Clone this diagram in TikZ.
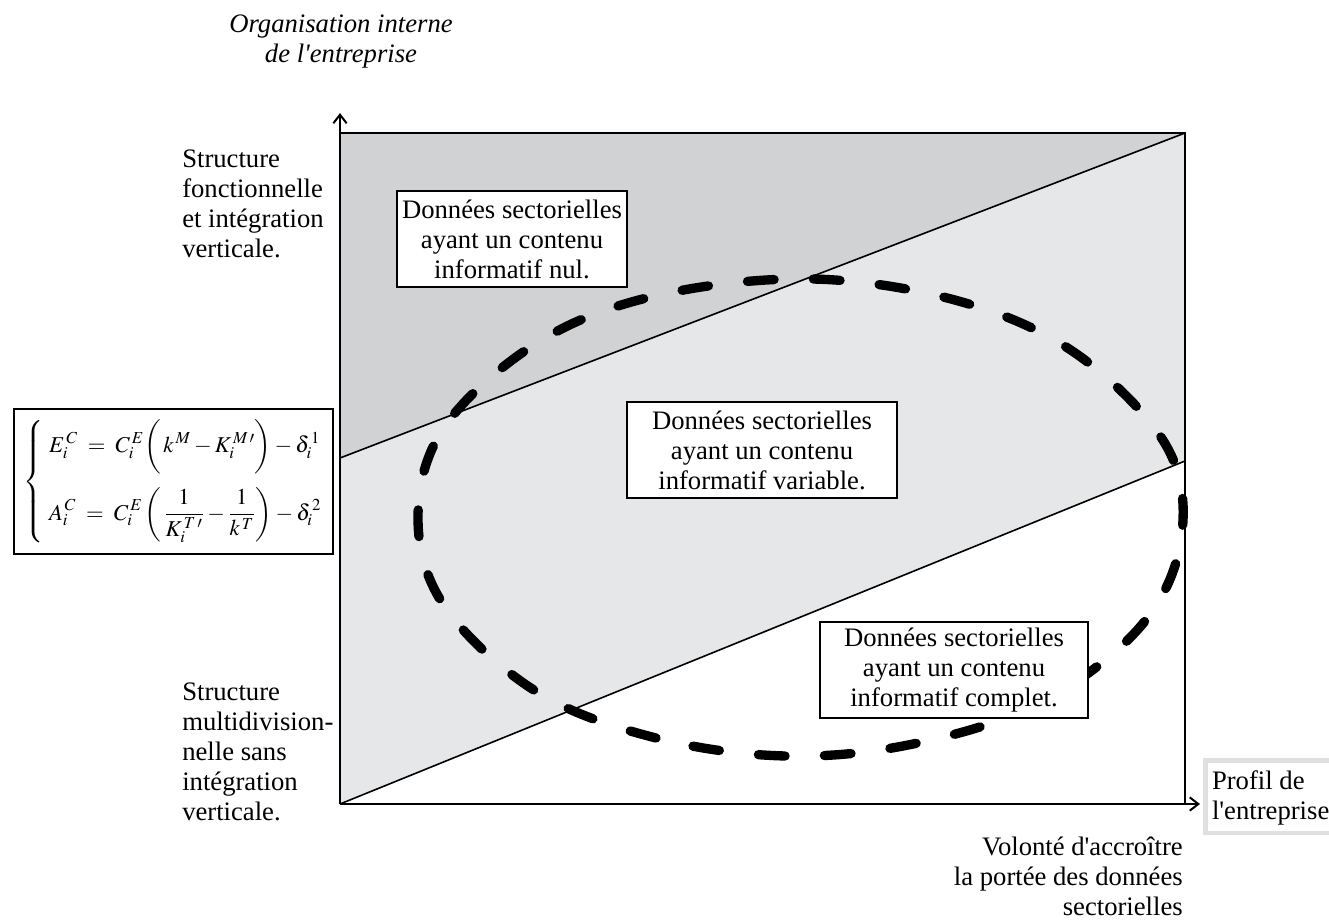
\documentclass[tikz,border=0pt]{standalone}
\usepackage{mathptmx}
\usepackage[no-math]{fontspec}
\setmainfont{Liberation Serif}
\usetikzlibrary{positioning, calc, arrows.meta}
\definecolor{darkzone}{RGB}{209,210,212}
\definecolor{lightzone}{RGB}{230,231,232}

\begin{document}
\begin{tikzpicture}
    [
        x=0.75pt, y=-0.75pt,
        txt/.style={font=\fontsize{20}{22.5}\selectfont, inner sep=0pt, align=left},
        info_box/.style={draw=black, fill=white, line width=1.5pt, font=\fontsize{20}{22.5}\selectfont, align=center, minimum height=71.5pt, inner sep=0pt},
        profil_box/.style={txt, draw=black!12, line width=3.5pt, fill=white, inner xsep=3.5pt, inner ysep=6pt, minimum width=98pt},
        eq_box/.style={draw=black, line width=1.5pt, inner xsep=3pt, inner ysep=8pt, minimum width=239pt, align=left, font=\fontsize{17}{20}\selectfont},
        zone_line/.style={line width=1.2pt},
        thick_dash/.style={line width=7pt, line cap=round, dash pattern=on 20pt off 29.5pt},
        axis_arrow/.style={line width=1.5pt, -{Straight Barb[length=6.5pt, width=10pt]}},
    ]

  \useasboundingbox (0,0) rectangle (1329,922);

  \coordinate (origin) at (340,804);
  \coordinate (top_left) at (340,133);
  \coordinate (top_right) at (1185,133);
  \coordinate (bottom_right) at (1185,804);
  \coordinate (mid_left) at (340,458);
  \coordinate (mid_right) at (1185,461);
  \coordinate (y_tip) at (340,113);
  \coordinate (x_tip) at (1200,804);

  \fill[darkzone] (top_left) -- (top_right) -- (mid_left) -- cycle;
  \fill[lightzone] (mid_left) -- (top_right) -- (mid_right) -- (origin) -- cycle;
  \draw[zone_line] (mid_left) -- (top_right);
  \draw[zone_line] (origin) -- (mid_right);
  \draw[line width=1.5pt] (top_left) -- (top_right) -- (bottom_right);

  \draw[thick_dash] plot[smooth cycle, tension=0.6] coordinates {(786,756) (656,738) (537,692) (445,607) (418,518) (445,426) (540,341) (659,295) (813,279) (962,302) (1078,355) (1167,447) (1181,540) (1140,627) (1040,703) (913,744)};

  \node[info_box, minimum width=173pt] (nul) at (512,239) {Données sectorielles\\ayant un contenu\\informatif nul.};
  \node[info_box, minimum width=202pt] (variable) at (762,450) {Données sectorielles\\ayant un contenu\\informatif variable.};
  \node[info_box, minimum width=201pt] (complet) at (954,670) {Données sectorielles\\ayant un contenu\\informatif complet.};

  \draw[axis_arrow] (origin) -- (y_tip);
  \draw[axis_arrow] (origin) -- (x_tip);

  \node[txt, align=center, anchor=north, font=\fontsize{20}{22.5}\selectfont\itshape] (organisation) at (341,11) {\strut Organisation interne\\de l\textquotesingle entreprise};
  \node[txt, anchor=north west] (fonctionnelle) at (182,146) {\strut Structure\\fonctionnelle\\et intégration\\verticale.};
  \node[txt, anchor=north west] (multidiv) at (182,679) {\strut Structure\\multidivision-\\nelle sans\\intégration\\verticale.};
  \node[txt, align=right, anchor=north east] (volonte) at (1183,834) {\strut Volonté d\textquotesingle accroître\\la portée des données\\sectorielles};
  \node[profil_box, anchor=north west] (profil) at (1203,758) {\strut Profil de\\l\textquotesingle entreprise};

  \node[eq_box, anchor=north west] (equations) at (13,408) {$\left\{\;\begin{array}{@{}l@{}}
      \displaystyle E_{i}^{\,C} \;=\; C_{i}^{\,E}\biggl(\,k^{\,M} - K_{i}^{\,M\,\prime}\biggr) - \delta_{i}^{\,1} \\[20pt]
      \displaystyle A_{i}^{\,C} \;=\; C_{i}^{\,E}\left(\,\frac{1}{K_{i}^{\,T\,\prime}} - \frac{1}{k^{\,T}}\right) - \delta_{i}^{\,2}
    \end{array}\right.$};
\end{tikzpicture}
\end{document}
